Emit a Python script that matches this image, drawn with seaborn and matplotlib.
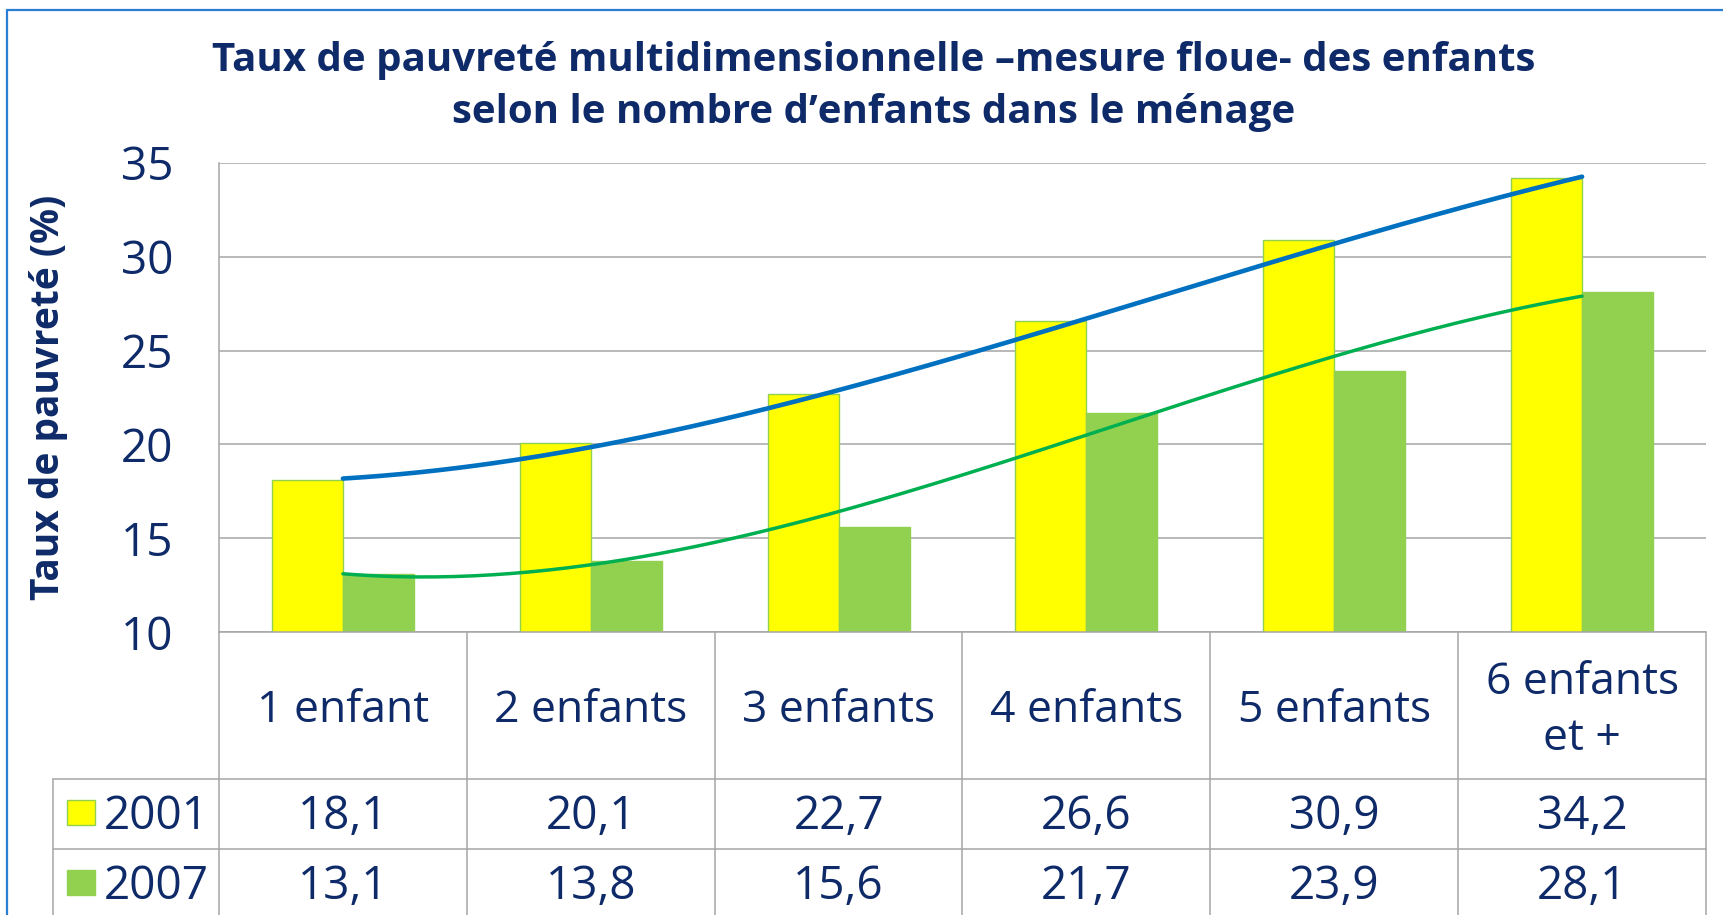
import matplotlib.pyplot as plt
import matplotlib.patches as mpatches
import matplotlib.lines as mlines
from matplotlib.transforms import blended_transform_factory
import numpy as np
import pandas as pd
import seaborn as sns

# data
categories = ["1 enfant", "2 enfants", "3 enfants", "4 enfants", "5 enfants", "6 enfants\net +"]
years = ["2001", "2007"]
v2001 = [18.1, 20.1, 22.7, 26.6, 30.9, 34.2]
v2007 = [13.1, 13.8, 15.6, 21.7, 23.9, 28.1]
labels2001 = ["18,1", "20,1", "22,7", "26,6", "30,9", "34,2"]
labels2007 = ["13,1", "13,8", "15,6", "21,7", "23,9", "28,1"]

title1 = "Taux de pauvreté multidimensionnelle –mesure floue- des enfants"
title2 = "selon le nombre d’enfants dans le ménage"
ylab = "Taux de pauvreté (%)"

bar_colors = ["#FFFF00", "#92D050"]
trend_colors = ["#0070C0", "#00B050"]
navy = "#0E2A68"
grid_gray = "#A6A6A6"

sns.set_theme(style="white")
plt.rcParams['font.family'] = ['Open Sans', 'DejaVu Sans']

W, H = 1723, 915
fig = plt.figure(figsize=(W / 100, H / 100), dpi=100)

def fx(px):
    return px / W

def fy(py):
    return 1 - py / H

# plot area in pixels: left 219, top 163, right 1706, bottom 632
ax = fig.add_axes([fx(219), fy(632), fx(1706 - 219), (632 - 163) / H])

df = pd.DataFrame({
    "cat": categories * 2,
    "val": v2001 + v2007,
    "year": [years[0]] * 6 + [years[1]] * 6,
})

sns.barplot(data=df, x="cat", y="val", hue="year", palette=bar_colors,
            width=0.573, gap=0, ax=ax, legend=False,
            edgecolor="#92D050", linewidth=1, saturation=1)

# polynomial trend lines (order 3), like the spreadsheet trendlines
xs = np.arange(len(categories))
xx = np.linspace(0, len(categories) - 1, 200)
for vals, col, lw in [(v2001, trend_colors[0], 3.3), (v2007, trend_colors[1], 2.5)]:
    coef = np.polyfit(xs, vals, 3)
    ax.plot(xx, np.polyval(coef, xx), color=col, lw=lw, solid_capstyle="round", zorder=5)

ax.set_xlim(-0.5, len(categories) - 0.5)
ax.set_ylim(10, 35)
ax.set_yticks(range(10, 36, 5))
ax.set_xticks([])
ax.set_xlabel("")
ax.set_ylabel(ylab, fontsize=28, fontweight="bold", color=navy)
ax.yaxis.set_label_coords((68 - 219) / (1706 - 219), 0.5)
ax.tick_params(axis="y", length=0, pad=33, labelsize=33, labelcolor=navy)
ax.yaxis.grid(True, color=grid_gray, lw=1.1)
ax.set_axisbelow(True)
for s in ["top", "right"]:
    ax.spines[s].set_visible(False)
for s in ["left", "bottom"]:
    ax.spines[s].set_color(grid_gray)
    ax.spines[s].set_linewidth(1.1)

# data table under the axes
tr = blended_transform_factory(ax.transData, fig.transFigure)
lab_left = -0.5 - 166 / ((1706 - 219) / len(categories))
line_kw = dict(color=grid_gray, lw=1.1, transform=tr, clip_on=False)
for k in range(len(categories) + 1):
    fig.add_artist(mlines.Line2D([k - 0.5, k - 0.5], [fy(632), fy(H)], **line_kw))
fig.add_artist(mlines.Line2D([lab_left, lab_left], [fy(779), fy(H)], **line_kw))
for py in [779, 849]:
    fig.add_artist(mlines.Line2D([lab_left, len(categories) - 0.5], [fy(py), fy(py)], **line_kw))

for i, c in enumerate(categories):
    fig.text(i, fy(711), c, transform=tr, ha="center", va="center",
             fontsize=32, color=navy, linespacing=1.35)
    fig.text(i, fy(817), labels2001[i], transform=tr, ha="center", va="center",
             fontsize=33, color=navy)
    fig.text(i, fy(887), labels2007[i], transform=tr, ha="center", va="center",
             fontsize=33, color=navy)

for yr, col, py in [(years[0], bar_colors[0], 813), (years[1], bar_colors[1], 883)]:
    fig.add_artist(mpatches.Rectangle((fx(67), fy(py + 12)), fx(28), 25 / H,
                                      transform=fig.transFigure, facecolor=col,
                                      edgecolor="#92D050", lw=1))
    fig.text(fx(104), fy(py + 4), yr, ha="left", va="center", fontsize=33, color=navy)

# title
fig.text(fx(874), fy(60), title1, ha="center", va="center", fontsize=29,
         fontweight="bold", color=navy)
fig.text(fx(874), fy(113), title2, ha="center", va="center", fontsize=29,
         fontweight="bold", color=navy)

# outer frame (cut off at right and bottom)
frame_kw = dict(color="#2A7FD4", lw=1.6, transform=fig.transFigure)
fig.add_artist(mlines.Line2D([fx(7), fx(7)], [fy(10), 0], **frame_kw))
fig.add_artist(mlines.Line2D([fx(7), 1], [fy(10), fy(10)], **frame_kw))

fig.savefig("out.png", dpi=100)
